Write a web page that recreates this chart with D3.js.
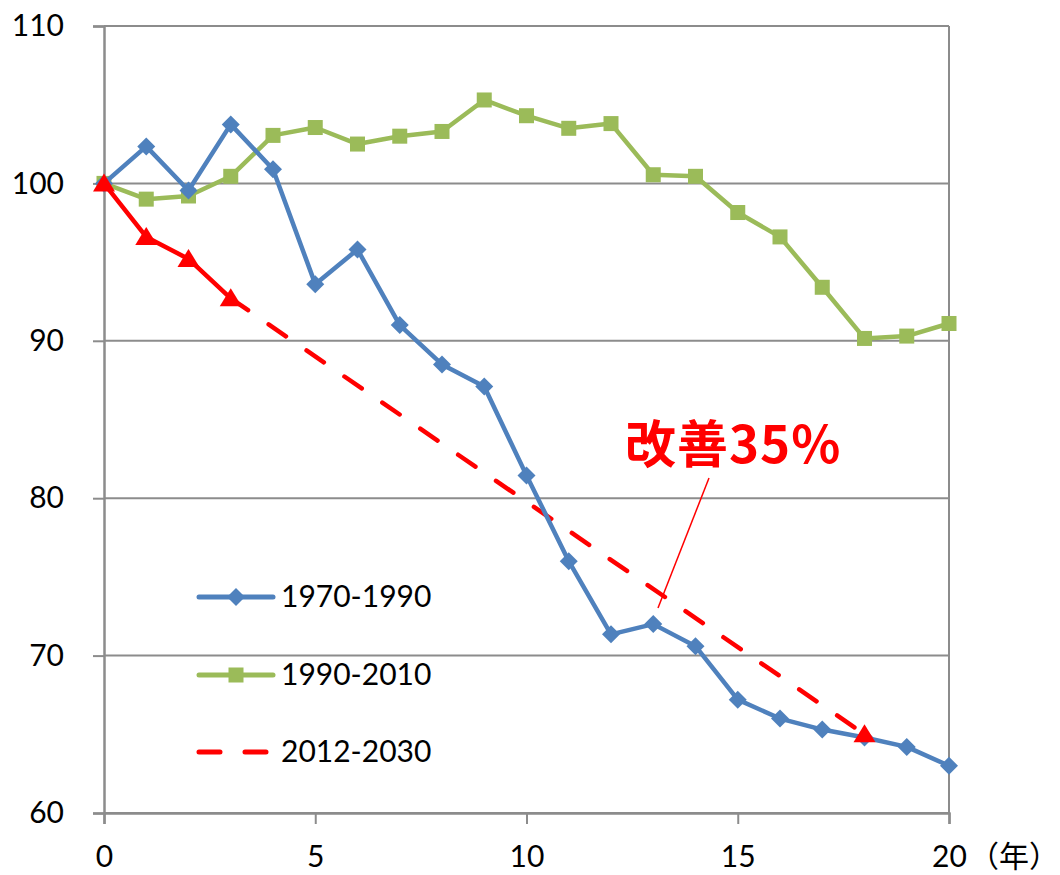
<!DOCTYPE html>
<html><head><meta charset="utf-8">
<script src="https://cdn.jsdelivr.net/npm/d3@7/dist/d3.min.js"></script>
<style>body{margin:0;background:#fff}svg{display:block}</style>
</head><body>
<svg id="c" width="1060" height="875"></svg>
<script>
const years = d3.range(0, 21);
const series1970 = [100, 102.35, 99.55, 103.75, 100.9, 93.6, 95.8, 91.0, 88.5, 87.1, 81.45, 76.0, 71.35, 72.0, 70.6, 67.2, 66.0, 65.3, 64.8, 64.2, 63.0];
const series1990 = [100, 99.0, 99.2, 100.45, 103.05, 103.55, 102.5, 103.0, 103.3, 105.3, 104.3, 103.5, 103.8, 100.55, 100.45, 98.15, 96.6, 93.4, 90.15, 90.3, 91.1];
const redYears = [0, 1, 2, 3];
const series2012 = [100, 96.6, 95.2, 92.7];
const targetYear = 18;
const targetValue = 65.0;
const xTicks = [0, 5, 10, 15, 20];
const yTicks = [60, 70, 80, 90, 100, 110];
const legendNames = ["1970-1990", "1990-2010", "2012-2030"];
const annotation = "改善35%";
const yearUnit = "（年）";

const svg = d3.select("#c");
const font = "Lato, 'Noto Sans CJK JP', sans-serif";
const x = d3.scaleLinear().domain([0, 20]).range([104, 949]);
const y = d3.scaleLinear().domain([60, 110]).range([813, 26]);
const gridC = "#8c8c8c";

// gridlines
svg.append("g").selectAll("line").data(yTicks).join("line")
  .attr("x1", x(0)).attr("x2", x(20))
  .attr("y1", d => y(d)).attr("y2", d => y(d))
  .attr("stroke", gridC).attr("stroke-width", 2);
// right border
svg.append("line").attr("x1", x(20)).attr("x2", x(20)).attr("y1", y(110)).attr("y2", y(60))
  .attr("stroke", gridC).attr("stroke-width", 2);

// axes
const yAxis = d3.axisLeft(y).tickValues(yTicks).tickSize(11).tickPadding(29);
const gy = svg.append("g").attr("transform", `translate(${x(0)},0)`).call(yAxis);
const xAxis = d3.axisBottom(x).tickValues(xTicks).tickSize(11);
const gx = svg.append("g").attr("transform", `translate(0,${y(60)})`).call(xAxis);
[gx, gy].forEach(g => {
  g.select(".domain").attr("stroke", gridC).attr("stroke-width", 2.5);
  g.selectAll(".tick line").attr("stroke", gridC).attr("stroke-width", 2);
  g.selectAll(".tick text").attr("fill", "#000").style("font-family", font).style("font-size", "30px");
});
gx.selectAll(".tick text").attr("y", 54).attr("dy", 0);
svg.append("text").attr("x", 969).attr("y", y(60) + 54)
  .style("font-family", "'Noto Sans CJK JP', sans-serif").style("font-size", "30px")
  .text(yearUnit);

const line = d3.line().x(d => x(d[0])).y(d => y(d[1]));

// red dashed projection
svg.append("path").datum([[redYears[3], series2012[3]], [targetYear, targetValue]])
  .attr("d", line).attr("fill", "none").attr("stroke", "#ff0000").attr("stroke-width", 4.5)
  .attr("stroke-dasharray", "21,25").attr("stroke-linecap", "round");

// green
svg.append("path").datum(years.map((d, i) => [d, series1990[i]]))
  .attr("d", line).attr("fill", "none").attr("stroke", "#9bbb59").attr("stroke-width", 4.5).attr("stroke-linejoin", "round");
svg.append("g").selectAll("rect").data(years).join("rect")
  .attr("x", d => x(d) - 7.5).attr("y", (d, i) => y(series1990[i]) - 7.5)
  .attr("width", 15).attr("height", 15).attr("fill", "#9bbb59");

// blue
svg.append("path").datum(years.map((d, i) => [d, series1970[i]]))
  .attr("d", line).attr("fill", "none").attr("stroke", "#4f81bd").attr("stroke-width", 4.5).attr("stroke-linejoin", "round");
const diamond = s => `M0,${-s}L${s},0L0,${s}L${-s},0Z`;
svg.append("g").selectAll("path").data(years).join("path")
  .attr("transform", (d, i) => `translate(${x(d)},${y(series1970[i])})`)
  .attr("d", diamond(9)).attr("fill", "#4f81bd");

// red solid
svg.append("path").datum(redYears.map((d, i) => [d, series2012[i]]))
  .attr("d", line).attr("fill", "none").attr("stroke", "#ff0000").attr("stroke-width", 4.5).attr("stroke-linejoin", "round");
const tri = s => `M0,${-s}L${s * 1.1},${s * 0.8}L${-s * 1.1},${s * 0.8}Z`;
const redPts = redYears.map((d, i) => [d, series2012[i]]).concat([[targetYear, targetValue]]);
svg.append("g").selectAll("path").data(redPts).join("path")
  .attr("transform", d => `translate(${x(d[0])},${y(d[1])})`)
  .attr("d", tri(10)).attr("fill", "#ff0000");

// annotation
svg.append("line").attr("x1", 709).attr("y1", 478).attr("x2", 658).attr("y2", 608)
  .attr("stroke", "#ff0000").attr("stroke-width", 1.5);
svg.append("text").attr("x", 625).attr("y", 463)
  .style("font-family", "'Noto Sans CJK JP', sans-serif").style("font-weight", "bold")
  .style("font-size", "51px").style("letter-spacing", "1px").attr("fill", "#ff0000").text(annotation);

// legend
const lg = svg.append("g");
const ly = [597, 675, 752];
const lcol = ["#4f81bd", "#9bbb59", "#ff0000"];
legendNames.forEach((n, i) => {
  const g = lg.append("g").attr("transform", `translate(0,${ly[i]})`);
  const ln = g.append("line").attr("x1", 199).attr("x2", 273).attr("y1", 0).attr("y2", 0)
    .attr("stroke", lcol[i]).attr("stroke-width", 5).attr("stroke-linecap", "round");
  if (i === 0) g.append("path").attr("transform", "translate(236,0)").attr("d", diamond(9)).attr("fill", lcol[i]);
  if (i === 1) g.append("rect").attr("x", 228.5).attr("y", -7.5).attr("width", 15).attr("height", 15).attr("fill", lcol[i]);
  if (i === 2) ln.attr("stroke-dasharray", "21,25").attr("x1", 199).attr("x2", 266);
  g.append("text").attr("x", 281).attr("y", 10).style("font-family", font).style("font-size", "30px").text(n);
});
</script>
</body></html>
